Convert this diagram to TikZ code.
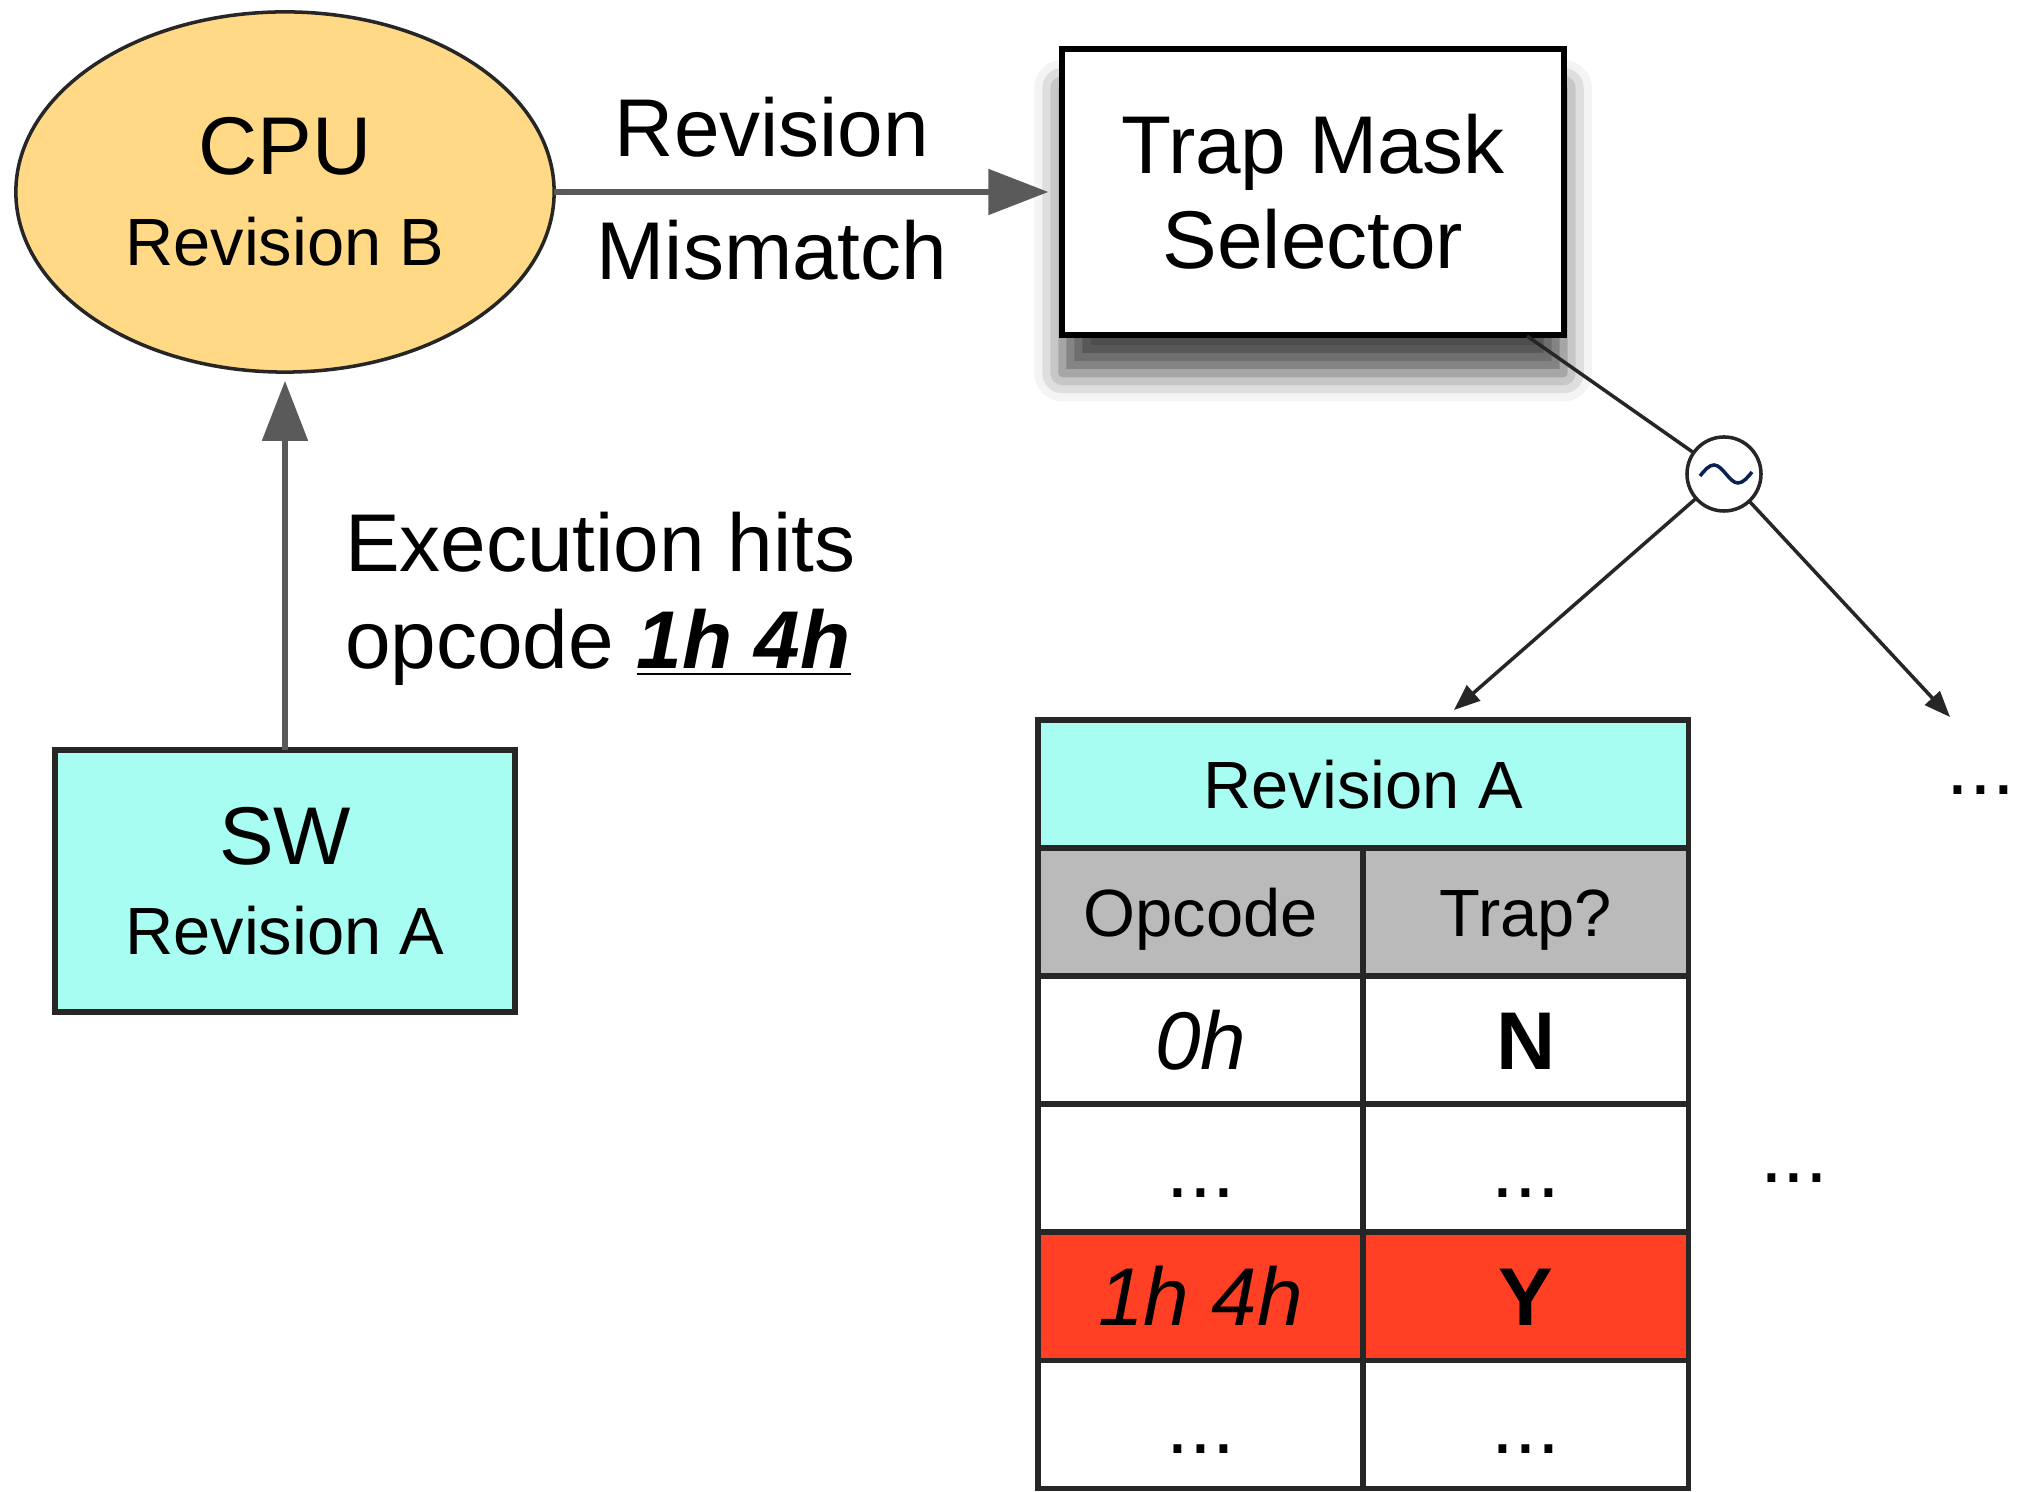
\documentclass[tikz,border=0pt]{standalone}
\usepackage{fontspec}
\setmainfont{Liberation Sans}
\usetikzlibrary{arrows.meta,shapes.geometric,shadows.blur}
\definecolor{cpuorange}{HTML}{FFD986}
\definecolor{swcyan}{HTML}{A7FDF1}
\definecolor{headgray}{HTML}{BABABA}
\definecolor{trapred}{HTML}{FF4024}
\definecolor{flowgray}{HTML}{5A5A5A}
\definecolor{tildenavy}{HTML}{0B2150}
\newcommand{\bigsz}{\fontsize{23.3}{27}\selectfont}
\newcommand{\smallsz}{\fontsize{19}{23}\selectfont}

\begin{document}
\begin{tikzpicture}[x=0.01cm,y=-0.01cm,
    every node/.style={inner sep=0pt,outer sep=0pt},
    flow/.style={draw=flowgray,line width=1.5pt,-{Triangle[length=0.6cm,width=0.45cm]}},
    tap/.style={draw=black!85,line width=1pt},
    tapflow/.style={tap,-{Triangle[length=0.26cm,width=0.2cm]}},
    cell/.style={draw=black!85,line width=1.6pt,anchor=north west,minimum width=3.25cm,minimum height=1.28cm},
    smallcell/.style={cell,font=\smallsz,text height=13.7pt,text depth=0pt},
    bigcell/.style={cell,font=\bigsz,text height=16.8pt,text depth=0pt}]
  \useasboundingbox (0,0) rectangle (2017,1492);

  % blocks
  \node[ellipse,draw=black!85,line width=1pt,fill=cpuorange,minimum width=5.38cm,minimum height=3.6cm,
        align=center,font=\bigsz] (cpu) at (285,192) {CPU\\[-1pt]{\smallsz Revision B}};
  \node[draw=black,line width=1.7pt,fill=white,minimum width=5.01cm,minimum height=2.85cm,align=center,font=\bigsz,
        blur shadow={shadow xshift=0pt,shadow yshift=-11pt,shadow blur radius=8pt,shadow opacity=70}] (trap) at (1313,192) {Trap Mask\\Selector};
  \node[draw=black!85,line width=1.7pt,fill=swcyan,minimum width=4.6cm,minimum height=2.62cm,
        align=center,font=\bigsz] (sw) at (285,881) {SW\\[-1.5pt]{\smallsz Revision A}};

  % flows
  \draw[flow,shorten >=4pt] (cpu.east) -- (trap.west);
  \node[anchor=base,font=\bigsz] (revlbl) at (772,157) {Revision};
  \node[anchor=base,font=\bigsz] (mislbl) at (772,280) {Mismatch};
  \draw[flow,shorten >=2.5pt] (sw.north) -- (cpu.south);
  \node[anchor=base west,font=\bigsz] (hitslbl) at (345,572) {Execution hits};
  \node[anchor=base west,font=\bigsz] (opclbl) at (345,669) {opcode \underline{\textbf{\textit{1h 4h}}}};

  % selector
  \node[circle,draw=black!85,line width=1pt,fill=white,minimum size=0.74cm] (sel) at (1724,474) {};
  \draw[tildenavy,line width=1pt] (1700,476) sin (1714,465) cos (1726,474) sin (1738,483) cos (1752,472);
  \coordinate (trapout) at (1527,336);
  \coordinate (tabin) at (1454,710);
  \coordinate (nextin) at (1950,717);
  \draw[tap] (trapout) -- (sel);
  \draw[tapflow] (sel) -- (tabin);
  \draw[tapflow] (sel) -- (nextin);

  % table
  \node[smallcell,fill=swcyan,minimum width=6.5cm] (head) at (1038,720) {Revision A};
  \node[smallcell,fill=headgray] (opchd) at (head.south west) {Opcode};
  \node[smallcell,fill=headgray] (trapchd) at (opchd.north east) {Trap?};
  \node[bigcell,fill=white] (opzero) at (opchd.south west) {\textit{0h}};
  \node[bigcell,fill=white] (trzero) at (opzero.north east) {\textbf{N}};
  \node[bigcell,fill=white] (opdots) at (opzero.south west) {...};
  \node[bigcell,fill=white] (trdots) at (opdots.north east) {...};
  \node[bigcell,fill=trapred] (ophit) at (opdots.south west) {\textit{1h 4h}};
  \node[bigcell,fill=trapred] (trhit) at (ophit.north east) {\textbf{Y}};
  \node[bigcell,fill=white] (oplast) at (ophit.south west) {...};
  \node[bigcell,fill=white] (trlast) at (oplast.north east) {...};

  \node[anchor=base east,font=\bigsz] (moreright) at (2015,795) {...};
  \node[anchor=base west,font=\bigsz] (moremid) at (1760,1183) {...};
\end{tikzpicture}
\end{document}
